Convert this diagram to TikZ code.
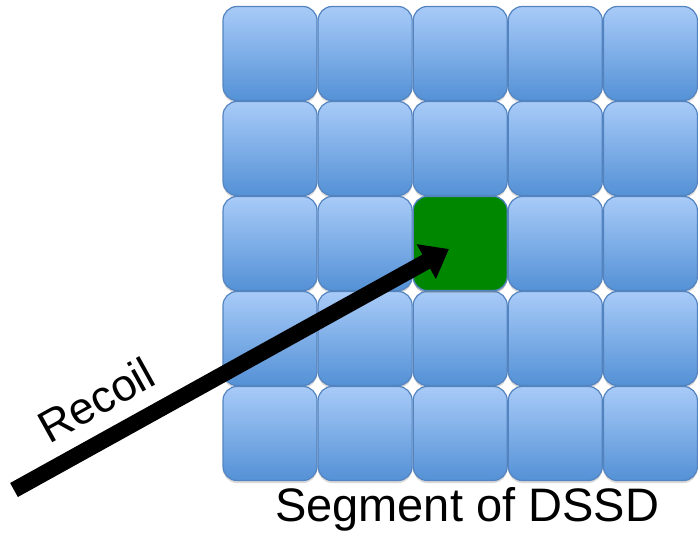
\documentclass[tikz,border=0pt]{standalone}
\usepackage{fontspec}
\setmainfont{Liberation Sans}
\usetikzlibrary{arrows.meta,shadows}
\definecolor{tiletop}{RGB}{168,203,248}
\definecolor{tilebot}{RGB}{84,145,214}
\definecolor{tileedge}{RGB}{84,132,192}
\definecolor{hitgreen}{RGB}{0,135,0}
\tikzset{
  tile/.style={draw=tileedge, line width=1.2pt, rounded corners=14pt,
    minimum width=94pt, minimum height=94pt, inner sep=0pt,
    top color=tiletop, bottom color=tilebot,
    drop shadow={opacity=0.3, shadow xshift=0pt, shadow yshift=-2.5pt}},
  hittile/.style={tile, top color=hitgreen, bottom color=hitgreen},
  recoilarrow/.style={line width=16pt, -{Triangle[length=26pt,width=38pt]}, black},
  lbl/.style={inner sep=0pt, font=\fontsize{47}{51}\selectfont}
}
\begin{document}
\begin{tikzpicture}[x=1pt,y=-1pt]
\useasboundingbox (0,0) rectangle (698,537);
\foreach \i in {0,...,4}{
  \foreach \j in {0,...,4}{
    \node[tile] (t-\i-\j) at ({270+95.1*\i},{53.5+95*\j}) {};
  }
}
\node[hittile] (hit) at ({270+95.1*2},{53.5+95*2}) {};
\coordinate (tail) at (14,490);
\coordinate (tip) at (449,249);
\draw[recoilarrow] (tail) -- (tip);
\node[lbl, rotate=29, font=\fontsize{45}{49}\selectfont] (recoil) at (96,400) {Recoil};
\node[lbl] (seg) at (467,509) {Segment of DSSD};
\end{tikzpicture}
\end{document}
